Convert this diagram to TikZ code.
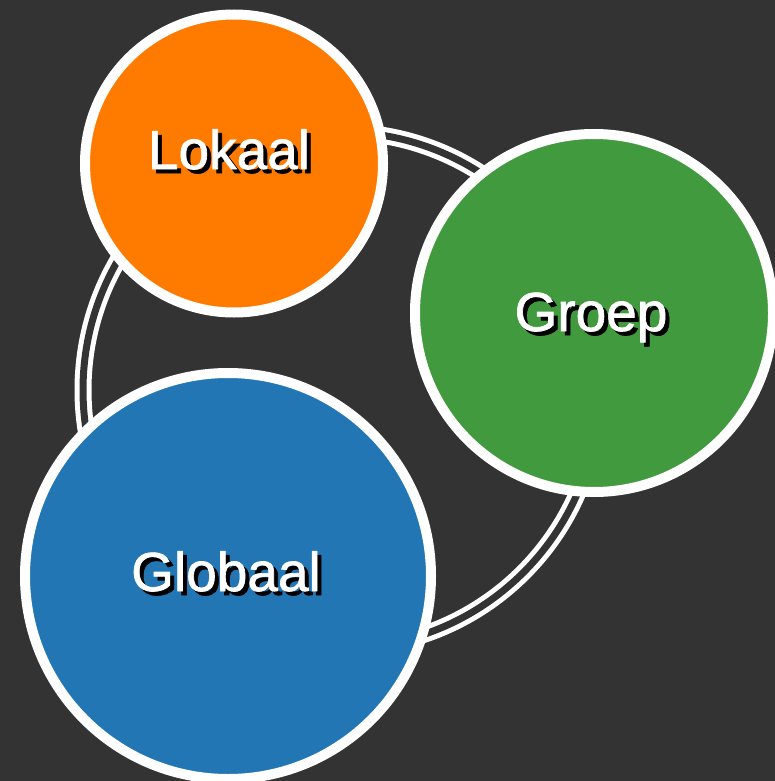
\documentclass[tikz,border=0pt]{standalone}
\usepackage{fontspec}
\setmainfont{Liberation Sans}
\newfontfamily\lblfont[FakeBold=1.2]{Liberation Sans}
\definecolor{bg}{HTML}{333333}
\definecolor{cOrange}{HTML}{FF7B00}
\definecolor{cGreen}{HTML}{419A3D}
\definecolor{cBlue}{HTML}{2276B4}
\begin{document}
\begin{tikzpicture}[x=1pt,y=-1pt,
  ball/.style={circle, draw=white, line width=10pt, inner sep=0pt},
  lbl/.style={anchor=base, inner sep=0pt, font=\lblfont\fontsize{55}{60}\selectfont},
  ring/.style={draw=white, double=bg, line width=5pt, double distance=7pt}]
\fill[bg] (0,0) rectangle (775,781);
\useasboundingbox (0,0) rectangle (775,781);
\coordinate (rc) at (341,390);
\draw[ring] (rc) circle[radius=258];
\node[ball, fill=cOrange, minimum size=298pt] (lokaal) at (234,163.5) {};
\node[ball, fill=cGreen, minimum size=358pt] (groep) at (594,313) {};
\node[ball, fill=cBlue, minimum size=406pt] (globaal) at (228,576) {};
\foreach \n/\t/\x/\y in {lokaalS/Lokaal/229/169, groepS/Groep/591/331, globaalS/Globaal/226/591}
  \node[lbl, text=black] (\n) at (\x+4,\y+4) {\t};
\node[lbl, text=white] (lokaalT) at (229,169) {Lokaal};
\node[lbl, text=white] (groepT) at (591,331) {Groep};
\node[lbl, text=white] (globaalT) at (226,591) {Globaal};
\end{tikzpicture}
\end{document}
